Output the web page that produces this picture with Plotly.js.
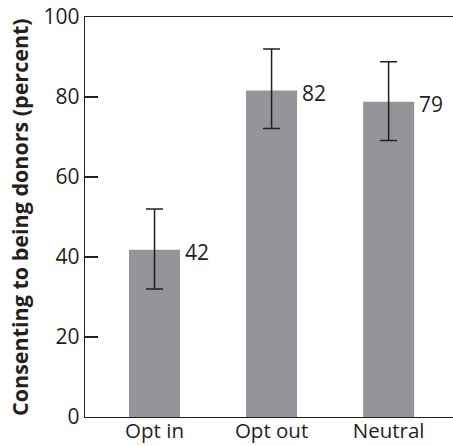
<!DOCTYPE html>
<html>
<head>
<meta charset="utf-8">
<script src="https://cdn.plot.ly/plotly-3.0.1.min.js"></script>
<style>html,body{margin:0;padding:0;background:#fff;}#chart{width:453px;height:446px;}</style>
</head>
<body>
<div id="chart"></div>
<script>
var categories = ["Opt in", "Opt out", "Neutral"];
var values = [41.8, 81.6, 78.8];
var valueLabels = ["42", "82", "79"];
var errPlus = [10.2, 10.4, 10.0];
var errMinus = [9.8, 9.5, 9.7];
var yTicks = [0, 20, 40, 60, 80, 100];
var yTitle = "Consenting to being donors (percent)";

var ink = "#231f20";
var fontFam = "'Open Sans', 'Noto Sans', sans-serif";

var trace = {
  type: "bar",
  x: categories,
  y: values,
  marker: {color: "#939598"},
  width: 0.436,
  error_y: {type: "data", symmetric: false, array: errPlus, arrayminus: errMinus,
            color: ink, thickness: 1.5, width: 8.5},
  hoverinfo: "none"
};

var annotations = categories.map(function (c, i) {
  return {x: c, y: values[i], xref: "x", yref: "y", text: valueLabels[i],
          showarrow: false, xanchor: "left", yanchor: "middle", xshift: 28, yshift: -2,
          font: {family: fontFam, size: 21, color: ink}};
});
annotations.push({x: 0, y: 0.5, xref: "paper", yref: "paper", text: "<b>" + yTitle + "</b>",
  textangle: -90, showarrow: false, xanchor: "center", yanchor: "middle", xshift: -66, yshift: 0,
  font: {family: fontFam, size: 21.5, color: ink}});

var layout = {
  width: 453, height: 446,
  margin: {l: 85, r: 0, t: 17, b: 29, pad: 0},
  paper_bgcolor: "#fff", plot_bgcolor: "#fff",
  showlegend: false,
  font: {family: fontFam, size: 21, color: ink},
  xaxis: {range: [-0.594, 2.55], showline: true, mirror: true, linecolor: ink, linewidth: 1.3,
          ticks: "", showgrid: false, zeroline: false, fixedrange: true, ticklabelstandoff: -5,
          tickfont: {family: fontFam, size: 20.5, color: ink}},
  yaxis: {range: [0, 100], tickvals: yTicks, ticktext: yTicks.map(String), ticks: "inside", ticklen: 13,
          tickwidth: 1.3, tickcolor: ink, showline: true, linecolor: ink, linewidth: 1.3,
          showgrid: false, zeroline: false, fixedrange: true, ticklabelstandoff: 0,
          tickfont: {family: fontFam, size: 21, color: ink}},
  annotations: annotations
};

Plotly.newPlot("chart", [trace], layout, {displayModeBar: false, staticPlot: true});
</script>
</body>
</html>
